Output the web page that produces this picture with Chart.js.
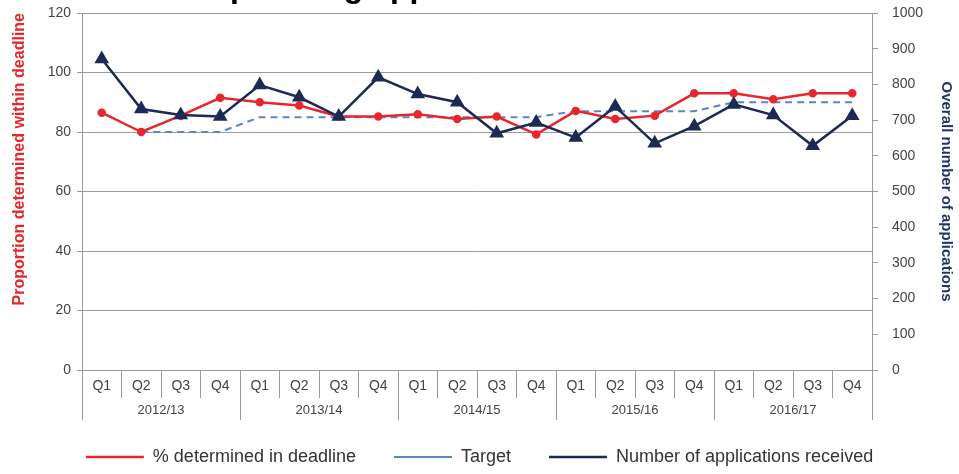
<!DOCTYPE html>
<html>
<head>
<meta charset="utf-8">
<script src="https://cdn.jsdelivr.net/npm/chart.js@4/dist/chart.umd.min.js"></script>
<style>
  html, body { margin: 0; padding: 0; background: #fff; overflow: hidden; }
  #wrap { position: relative; width: 959px; height: 474px; }
  #titulo {
    position: absolute; left: 134px; top: -30px; z-index: 2;
    font: bold 32px "Liberation Sans", Arial, sans-serif; line-height: 32px;
    color: #000; white-space: nowrap;
  }
  canvas { position: absolute; left: 0; top: 0; }
</style>
</head>
<body>
<div id="wrap">
  <div id="titulo">Minor planning applications</div>
  <canvas id="grafico" width="959" height="474"></canvas>
</div>
<script>
// Datos
const trimestres = ["Q1", "Q2", "Q3", "Q4", "Q1", "Q2", "Q3", "Q4", "Q1", "Q2", "Q3", "Q4",
                    "Q1", "Q2", "Q3", "Q4", "Q1", "Q2", "Q3", "Q4"];
const anios = ["2012/13", "2013/14", "2014/15", "2015/16", "2016/17"];
const pctDeterminado = [86.5, 80, 85.5, 91.5, 90, 88.9, 85.2, 85.2, 86, 84.4,
                        85.2, 79.2, 87.1, 84.4, 85.5, 93, 93, 91, 93, 93];
const objetivo = [null, 80, 80, 80, 85, 85, 85, 85, 85, 85,
                  85, 85, 87, 87, 87, 87, 90, 90, 90, 90];
const solicitudes = [871, 731, 714, 710, 798, 764, 710, 820, 773, 750,
                     663, 693, 651, 738, 635, 683, 744, 714, 628, 712];

const ticksIzq = [0, 20, 40, 60, 80, 100, 120];
const ticksDer = [0, 100, 200, 300, 400, 500, 600, 700, 800, 900, 1000];

const gris = "#9a9a9a";
const fuente = "'Liberation Sans', Arial, sans-serif";
const fuenteEstrecha = "'Liberation Sans Narrow', 'Arial Narrow', sans-serif";

// La leyenda necesita separacion horizontal grande pero poca altura
const ajusteLeyenda = {
  id: "ajusteLeyenda",
  afterInit(chart) {
    const ley = chart.legend;
    if (!ley) return;
    const fitOrig = ley.fit.bind(ley);
    ley.fit = function () { fitOrig(); this.height = 54; };
    const drawOrig = ley.draw.bind(ley);
    ley.draw = function () {
      this.top -= 10;
      drawOrig();
      this.top += 10;
    };
  }
};

// sin relleno extra arriba/abajo por las etiquetas de los ejes Y
const sinRelleno = (s) => { s.paddingTop = 0; s.paddingBottom = 0; };

new Chart(document.getElementById("grafico"), {
  type: "line",
  data: {
    labels: trimestres,
    datasets: [
      {
        label: "% determined in deadline",
        data: pctDeterminado,
        yAxisID: "y",
        borderColor: "#e8262c",
        backgroundColor: "#e8262c",
        borderWidth: 2.5,
        pointStyle: "circle",
        pointRadius: 3,
        tension: 0,
        order: 2
      },
      {
        label: "Target",
        data: objetivo,
        yAxisID: "y",
        borderColor: "#5b86c0",
        backgroundColor: "#5b86c0",
        borderWidth: 2,
        borderDash: [7, 5],
        pointRadius: 0,
        tension: 0,
        order: 3
      },
      {
        label: "Number of applications received",
        data: solicitudes,
        yAxisID: "y1",
        borderColor: "#1c2a55",
        backgroundColor: "#1c2a55",
        borderWidth: 2.5,
        pointStyle: "triangle",
        pointRadius: 6,
        tension: 0,
        order: 1
      }
    ]
  },
  options: {
    responsive: false,
    animation: false,
    layout: { padding: { top: 13, left: 0, right: 0, bottom: 0 } },
    plugins: {
      tooltip: { enabled: false },
      legend: {
        position: "bottom",
        labels: {
          usePointStyle: true,
          pointStyle: "line",
          pointStyleWidth: 58,
          padding: 38,
          color: "#333",
          font: { family: fuente, size: 18 },
          sort: (a, b) => a.datasetIndex - b.datasetIndex
        }
      }
    },
    scales: {
      x: {
        type: "category",
        position: "bottom",
        offset: true,
        grid: { offset: true, drawOnChartArea: false, tickLength: 28, color: gris },
        border: { color: gris },
        ticks: { padding: -20, maxRotation: 0, autoSkip: false, color: "#444", font: { family: fuente, size: 14 } },
        afterFit: (s) => { s.height = 28; }
      },
      x2: {
        type: "category",
        position: "bottom",
        labels: anios,
        offset: true,
        grid: { offset: true, drawOnChartArea: false, tickLength: 22, color: gris },
        border: { display: false },
        ticks: { padding: -17, maxRotation: 0, autoSkip: false, color: "#444", font: { family: fuente, size: 13 } },
        afterFit: (s) => { s.height = 22; }
      },
      y: {
        position: "left",
        min: 0,
        max: 120,
        afterBuildTicks: (s) => { s.ticks = ticksIzq.map(v => ({ value: v })); },
        grid: { color: gris, tickLength: 5 },
        border: { color: gris },
        ticks: { color: "#444", padding: 6, font: { family: fuente, size: 14 } },
        title: {
          display: true,
          text: "Proportion determined within deadline",
          align: "end",
          color: "#e0282e",
          font: { family: fuenteEstrecha, size: 16, weight: "bold" },
          padding: { top: 10, bottom: 4 }
        },
        afterFit: (s) => { s.width = 82; sinRelleno(s); }
      },
      y1: {
        position: "right",
        min: 0,
        max: 1000,
        afterBuildTicks: (s) => { s.ticks = ticksDer.map(v => ({ value: v })); },
        grid: { drawOnChartArea: false, color: gris, tickLength: 6 },
        border: { color: gris },
        ticks: { color: "#444", padding: 14, font: { family: fuente, size: 14 }, callback: (v) => String(v) },
        title: {
          display: true,
          text: "Overall number of applications",
          color: "#1f3468",
          font: { family: fuenteEstrecha, size: 15, weight: "bold" },
          padding: { top: 4, bottom: 0 }
        },
        afterFit: (s) => { s.width = 87; sinRelleno(s); }
      }
    }
  },
  plugins: [ajusteLeyenda]
});
</script>
</body>
</html>
